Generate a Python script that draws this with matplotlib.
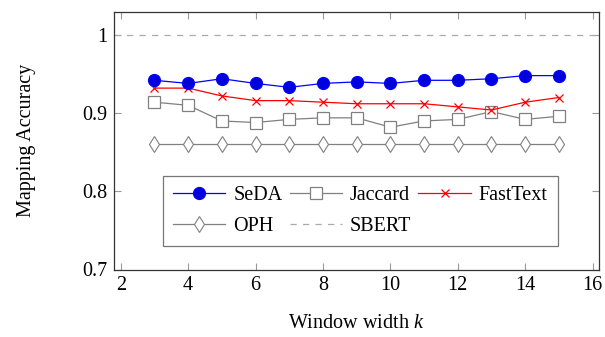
import matplotlib
matplotlib.use("Agg")
import matplotlib.pyplot as plt

k = [3, 4, 5, 6, 7, 8, 9, 10, 11, 12, 13, 14, 15]
seda = [0.942, 0.938, 0.944, 0.938, 0.933, 0.938, 0.940, 0.938, 0.942, 0.942, 0.944, 0.948, 0.948]
jaccard = [0.914, 0.910, 0.890, 0.888, 0.892, 0.894, 0.894, 0.882, 0.890, 0.892, 0.902, 0.892, 0.896]
fasttext = [0.932, 0.932, 0.922, 0.916, 0.916, 0.914, 0.912, 0.912, 0.912, 0.908, 0.904, 0.914, 0.920]
oph = [0.860] * 13
sbert = 1.0
xticks = [2, 4, 6, 8, 10, 12, 14, 16]
yticks = [0.7, 0.8, 0.9, 1.0]
ytick_labels = ["0.7", "0.8", "0.9", "1"]

plt.rcParams['font.family'] = ['Liberation Serif', 'DejaVu Serif']
plt.rcParams['mathtext.fontset'] = 'custom'
plt.rcParams['mathtext.it'] = 'Liberation Serif:italic'
plt.rcParams['font.size'] = 14.5

fig = plt.figure(figsize=(6.05, 3.37), dpi=100)
ax = fig.add_axes([114/605, 1 - 269.5/337, (599-114)/605, (269.5-11.5)/337])

gray = '#808080'
l_seda, = ax.plot(k, seda, color='blue', lw=0.9, marker='o', ms=8.5, mfc='#0000dd', mec='blue', label='SeDA', zorder=5)
l_jac, = ax.plot(k, jaccard, color=gray, lw=0.9, marker='s', ms=8, mfc='white', mec=gray, mew=0.9, label='Jaccard', zorder=3)
l_ft, = ax.plot(k, fasttext, color='red', lw=0.9, marker='x', ms=6, mew=0.9, label='FastText', zorder=4)
l_oph, = ax.plot(k, oph, color=gray, lw=0.9, marker='d', ms=8, mfc='white', mec=gray, mew=0.8, label='OPH', zorder=3)
l_sb = ax.axhline(sbert, color='#aaaaaa', lw=0.9, ls=(0, (5, 5)), label='SBERT', zorder=2)

ax.set_xlim(1.8, 16.19)
ax.set_ylim(0.7, 1.03)
ax.set_xticks(xticks)
ax.set_yticks(yticks)
ax.set_yticklabels(ytick_labels)
ax.tick_params(direction='in', length=5, width=0.8, color='#999999', top=True, right=True, pad=5)
for s in ax.spines.values():
    s.set_color('#333333')
    s.set_linewidth(0.9)

ax.set_xlabel(r'Window width $k$', labelpad=13)
ax.set_ylabel('Mapping Accuracy', labelpad=33)

handles = [l_seda, l_oph, l_jac, l_sb, l_ft]
leg = ax.legend(handles=handles, labels=[h.get_label() for h in handles],
                loc='lower center', bbox_to_anchor=(0.508, 0.091), borderaxespad=0, ncol=3,
                frameon=True, fancybox=False,
                edgecolor='#555555', handlelength=2.6, handletextpad=0.4, columnspacing=0.35,
                borderpad=0.5, labelspacing=0.6, fontsize=14.5)
leg.get_frame().set_linewidth(0.9)

fig.savefig('out.png', dpi=100)
